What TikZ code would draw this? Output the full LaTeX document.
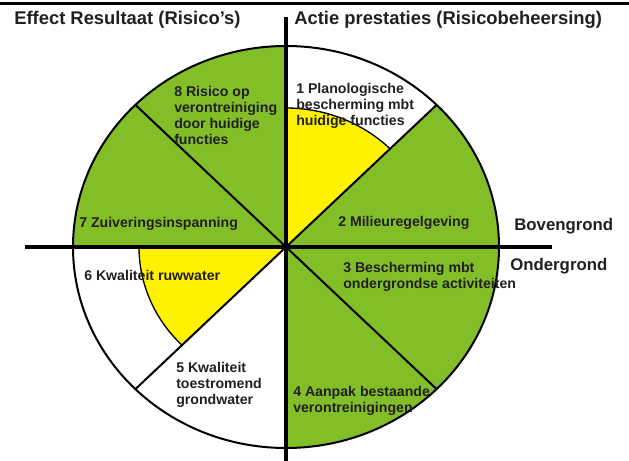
\documentclass[tikz,border=0pt]{standalone}
\usepackage{fontspec}
\setmainfont{Liberation Sans}
\usepackage{xcolor}
\definecolor{grasgroen}{RGB}{130,190,40}
\definecolor{geel}{RGB}{255,242,0}
\definecolor{inkt}{RGB}{35,31,32}
\tikzset{
  label/.style={anchor=west,inner sep=0pt,align=left,text=inkt,
    font=\bfseries\fontsize{10.6pt}{12pt}\selectfont},
  kop/.style={anchor=west,inner sep=0pt,text=inkt,
    font=\bfseries\fontsize{13.8pt}{16pt}\selectfont},
  laag/.style={anchor=west,inner sep=0pt,text=inkt,
    font=\bfseries\fontsize{12.6pt}{15pt}\selectfont}
}

\begin{document}
\begin{tikzpicture}[x=0.75pt,y=0.75pt]
        \useasboundingbox (0,0) rectangle (629,461);

        % Top bar
        \fill[black] (0,455.5) rectangle (629,458.5);

        \begin{scope}[shift={(286,214)}]
        % Green sectors
        \fill[grasgroen] (0,0) -- (-90:213 and 201) arc[start angle=-90,end angle=45,x radius=213,y radius=201] -- cycle;
        \fill[grasgroen] (0,0) -- (90:213 and 201) arc[start angle=90,end angle=180,x radius=213,y radius=201] -- cycle;

        % Yellow parts
        \fill[geel] (0,0) -- (45:147 and 139) arc[start angle=45,end angle=90,x radius=147,y radius=139] -- cycle;
        \fill[geel] (0,0) -- (180:147 and 139) arc[start angle=180,end angle=225,x radius=147,y radius=139] -- cycle;
        \draw[line width=1pt] (45:147 and 139) arc[start angle=45,end angle=90,x radius=147,y radius=139];
        \draw[line width=1pt] (180:147 and 139) arc[start angle=180,end angle=225,x radius=147,y radius=139];

        % Diagonals
        \draw[line width=1.5pt] (135:213 and 201) -- (-45:213 and 201);
        \draw[line width=1.5pt] (45:213 and 201) -- (225:213 and 201);

        % Outer boundary
        \draw[line width=1.5pt] (0,0) ellipse [x radius=213,y radius=201];

        % Axes
        \coordinate (west) at (-261,0);
        \coordinate (oost) at (266,0);
        \coordinate (noord) at (0,230);
        \coordinate (zuid) at (0,-214);
        \draw[line width=3pt] (west) -- (oost);
        \draw[line width=3pt] (noord) -- (zuid);
        \end{scope}

        % Headers
        \node[kop] (effect) at (14,441) {Effect Resultaat (Risico’s)};
        \node[kop] (actie) at (294,441) {Actie prestaties (Risicobeheersing)};
        \node[laag] (boven) at (514,235) {Bovengrond};
        \node[laag] (onder) at (510,195) {Ondergrond};

        % Sector labels
        \node[label] (s1) at (296,355.5) {1 Planologische\\bescherming mbt\\huidige functies};
        \node[label] (s2) at (338,238) {2 Milieuregelgeving};
        \node[label] (s3) at (343,184) {3 Bescherming mbt\\ondergrondse activiteiten};
        \node[label] (s4) at (293,60) {4 Aanpak bestaande\\verontreinigingen};
        \node[label] (s5) at (176,76) {5 Kwaliteit\\toestromend\\grondwater};
        \node[label] (s6) at (84,186) {6 Kwaliteit ruwwater};
        \node[label] (s7) at (79,237) {7 Zuiveringsinspanning};
        \node[label] (s8) at (174,345.5) {8 Risico op\\verontreiniging\\door huidige\\functies};

    \end{tikzpicture}
\end{document}
